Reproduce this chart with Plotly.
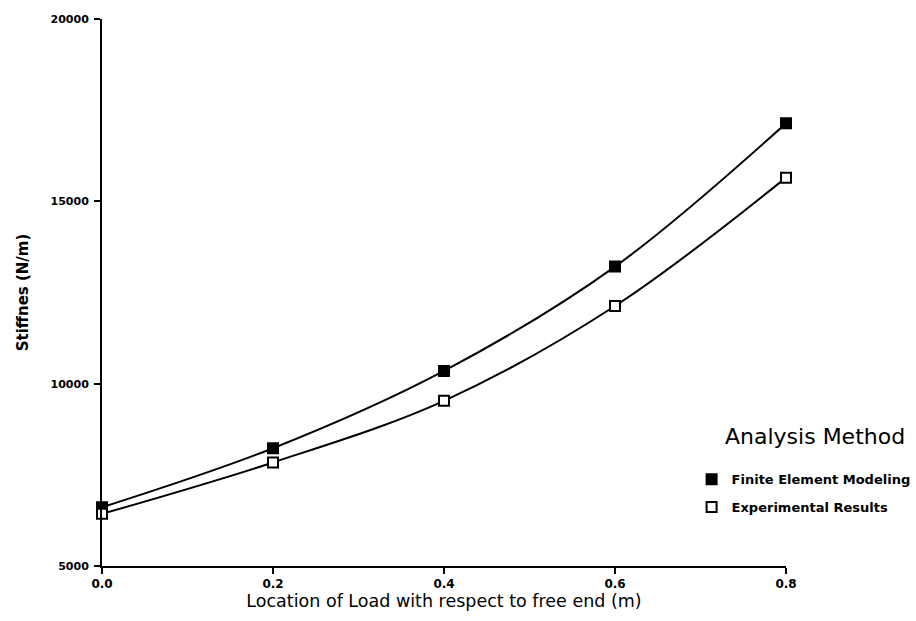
import plotly.graph_objects as go

location = [0.0, 0.2, 0.4, 0.6, 0.8]
fem_stiffness = [6610, 8230, 10350, 13210, 17140]
exp_stiffness = [6430, 7840, 9530, 12130, 15650]
x_ticks = [0.0, 0.2, 0.4, 0.6, 0.8]
y_ticks = [5000, 10000, 15000, 20000]
y_tick_text = ["5000", "10000", "15000", "20000"]

FONT = "DejaVu Sans"

fig = go.Figure()

for name, ys, fill in [("Finite Element Modeling", fem_stiffness, "black"),
                       ("Experimental Results", exp_stiffness, "white")]:
    fig.add_trace(go.Scatter(
        x=location, y=ys, mode="lines",
        line=dict(color="black", width=2, shape="spline", smoothing=1.0),
        showlegend=False, cliponaxis=False, hoverinfo="skip"))
    fig.add_trace(go.Scatter(
        x=location, y=ys, mode="markers", name=name, legendgroup=name,
        marker=dict(symbol="square", size=10, color=fill,
                    line=dict(color="black", width=2)),
        cliponaxis=False))

fig.add_annotation(text="Analysis Method", xref="paper", yref="paper",
                   x=1.0424, y=0.236, xanchor="center", yanchor="middle",
                   showarrow=False, font=dict(size=22, family=FONT))

fig.update_layout(
    width=916, height=621,
    margin=dict(l=102, r=130, t=19, b=55, autoexpand=False),
    paper_bgcolor="white", plot_bgcolor="white",
    font=dict(family=FONT, color="black"),
    xaxis=dict(range=[0, 0.8], tickvals=x_ticks, tickformat=".1f",
               showgrid=False, zeroline=False, showline=True,
               linecolor="black", linewidth=2, ticks="outside",
               ticklen=6, tickwidth=2, tickcolor="black",
               tickfont=dict(size=12, weight="bold", family=FONT),
               title=dict(text="Location of Load with respect to free end (m)",
                          font=dict(size=17.5, family=FONT), standoff=4)),
    yaxis=dict(range=[5000, 20000], tickvals=y_ticks, ticktext=y_tick_text,
               showgrid=False, zeroline=False, showline=True,
               linecolor="black", linewidth=2, ticks="outside",
               ticklen=6, tickwidth=2, tickcolor="black", ticklabelstandoff=3,
               tickfont=dict(size=11, weight="bold", family=FONT),
               title=dict(text="Stiffnes (N/m)",
                          font=dict(size=15, weight="bold", family=FONT), standoff=18)),
    legend=dict(x=0.862, y=0.186, xanchor="left", yanchor="top",
                bgcolor="rgba(0,0,0,0)", traceorder="grouped",
                font=dict(size=13, weight="bold", family=FONT),
                tracegroupgap=8, itemwidth=30),
)

fig.write_html("out.html")
